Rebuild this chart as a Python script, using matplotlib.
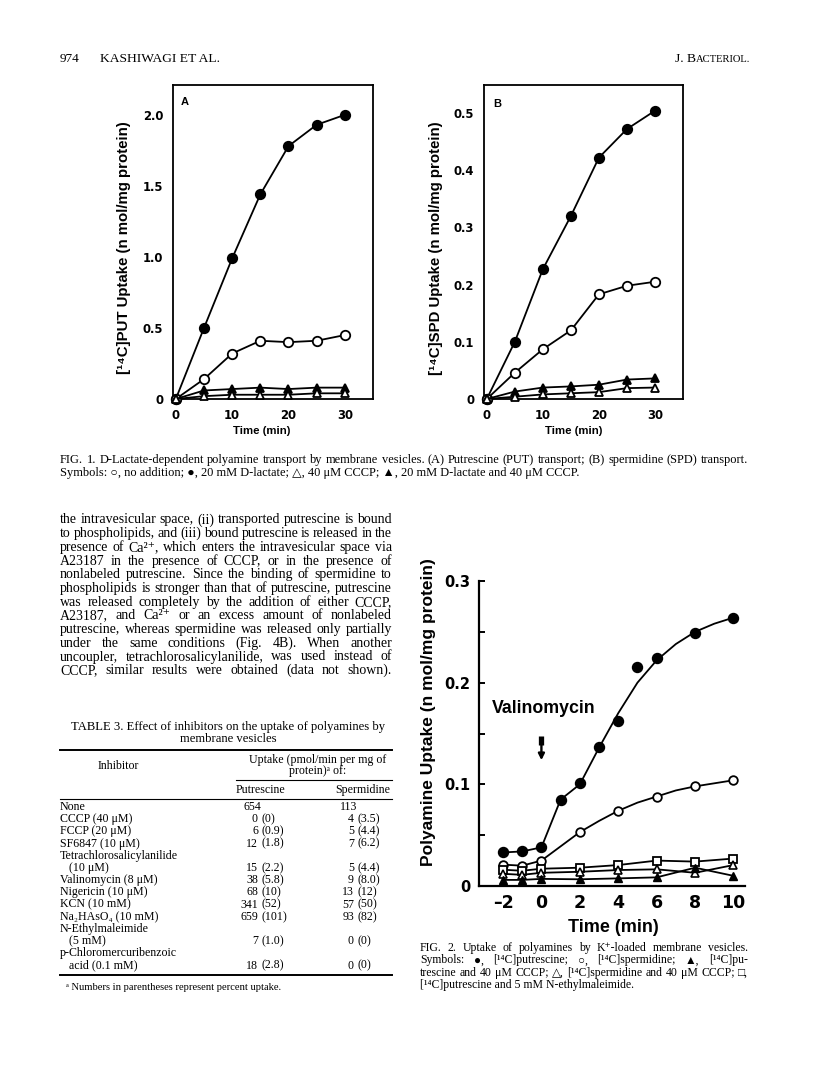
import matplotlib
matplotlib.use("Agg")
import matplotlib.pyplot as plt
from matplotlib.ticker import MultipleLocator

# ---- data ----
fig1_time = [0, 5, 10, 15, 20, 25, 30]
put_lactate = [0, 0.50, 0.99, 1.44, 1.78, 1.93, 2.00]
put_none = [0, 0.14, 0.32, 0.41, 0.40, 0.41, 0.45]
put_lactate_cccp = [0, 0.06, 0.07, 0.08, 0.07, 0.08, 0.08]
put_cccp = [0, 0.02, 0.03, 0.03, 0.03, 0.04, 0.04]

spd_lactate = [0, 0.100, 0.227, 0.320, 0.422, 0.472, 0.504]
spd_none = [0, 0.046, 0.087, 0.120, 0.183, 0.198, 0.205]
spd_lactate_cccp = [0, 0.013, 0.020, 0.022, 0.025, 0.034, 0.036]
spd_cccp = [0, 0.004, 0.008, 0.010, 0.012, 0.019, 0.020]

fig2_time = [-2, -1, 0, 1, 2, 3, 4, 5, 6, 8, 10]
f2_put = [0.033, 0.034, 0.038, 0.085, 0.101, 0.137, 0.162, 0.215, 0.224, 0.249, 0.264]
f2_time_b = [-2, -1, 0, 2, 4, 6, 8, 10]
f2_spd = [0.021, 0.020, 0.025, 0.053, 0.074, 0.088, 0.098, 0.104]
f2_put_cccp = [0.006, 0.006, 0.007, 0.0066, 0.0075, 0.0085, 0.018, 0.010]
f2_spd_cccp = [0.012, 0.011, 0.013, 0.014, 0.0157, 0.0164, 0.013, 0.0206]
f2_put_nem = [0.016, 0.015, 0.017, 0.018, 0.0206, 0.025, 0.024, 0.027]
# hand-drawn curves through the two upper series
curve_x = [-2, -1, 0, 1, 2, 3, 4, 5, 6, 7, 8, 9, 10]
curve_put = [0.033, 0.034, 0.038, 0.085, 0.100, 0.136, 0.170, 0.200, 0.222, 0.238, 0.250, 0.258, 0.264]
curve_spd = [0.021, 0.020, 0.025, 0.039, 0.053, 0.064, 0.074, 0.082, 0.088, 0.094, 0.098, 0.101, 0.104]
valinomycin_time = 0

inhibitors = ["None", "CCCP (40 \u03bcM)", "FCCP (20 \u03bcM)", "SF6847 (10 \u03bcM)",
              "Tetrachlorosalicylanilide", "   (10 \u03bcM)", "Valinomycin (8 \u03bcM)",
              "Nigericin (10 \u03bcM)", "KCN (10 mM)", "Na\u2082HAsO\u2084 (10 mM)",
              "N-Ethylmaleimide", "   (5 mM)", "p-Chloromercuribenzoic", "   acid (0.1 mM)"]
put_uptake = ["654", "0 (0)", "6 (0.9)", "12 (1.8)", "", "15 (2.2)", "38 (5.8)",
              "68 (10)", "341 (52)", "659 (101)", "", "7 (1.0)", "", "18 (2.8)"]
spd_uptake = ["113", "4 (3.5)", "5 (4.4)", "7 (6.2)", "", "5 (4.4)", "9 (8.0)",
              "13 (12)", "57 (50)", "93 (82)", "", "0 (0)", "", "0 (0)"]

paragraph = [
    "the intravesicular space, (ii) transported putrescine is bound",
    "to phospholipids, and (iii) bound putrescine is released in the",
    "presence of Ca\u00b2\u207a, which enters the intravesicular space via",
    "A23187 in the presence of CCCP, or in the presence of",
    "nonlabeled putrescine. Since the binding of spermidine to",
    "phospholipids is stronger than that of putrescine, putrescine",
    "was released completely by the addition of either CCCP,",
    "A23187, and Ca\u00b2\u207a or an excess amount of nonlabeled",
    "putrescine, whereas spermidine was released only partially",
    "under the same conditions (Fig. 4B). When another",
    "uncoupler, tetrachlorosalicylanilide, was used instead of",
    "CCCP, similar results were obtained (data not shown).",
]
fig1_caption = [
    "FIG. 1. D-Lactate-dependent polyamine transport by membrane vesicles. (A) Putrescine (PUT) transport; (B) spermidine (SPD) transport.",
    "Symbols: \u25cb, no addition; \u25cf, 20 mM D-lactate; \u25b3, 40 \u03bcM CCCP; \u25b2, 20 mM D-lactate and 40 \u03bcM CCCP.",
]
fig2_caption = [
    "FIG. 2. Uptake of polyamines by K\u207a-loaded membrane vesicles.",
    "Symbols: \u25cf, [\u00b9\u2074C]putrescine; \u25cb, [\u00b9\u2074C]spermidine; \u25b2, [\u00b9\u2074C]pu-",
    "trescine and 40 \u03bcM CCCP; \u25b3, [\u00b9\u2074C]spermidine and 40 \u03bcM CCCP; \u25a1,",
    "[\u00b9\u2074C]putrescine and 5 mM N-ethylmaleimide.",
]

W, H = 816, 1080
SERIF = ["Liberation Serif", "DejaVu Serif"]
SANS = ["Liberation Sans", "DejaVu Sans"]
WIDE = ["DejaVu Sans"]
plt.rcParams["font.family"] = SANS
plt.rcParams["font.weight"] = "bold"

fig = plt.figure(figsize=(8.16, 10.8), dpi=100)
renderer = fig.canvas.get_renderer()


def rect(l, t, r, b):
    return [l / W, 1 - b / H, (r - l) / W, (b - t) / H]


def txt(x, y, s, size=10, ha="left", family=SERIF, weight="normal", **kw):
    return fig.text(x / W, 1 - y / H, s, fontsize=size, ha=ha, va="center",
                    family=family, fontweight=weight, **kw)


def line(s, x0, y, size, x1=None):
    # justified line of body text
    if x1 is None:
        return txt(x0, y, s, size)
    words = s.split(" ")
    ts = [txt(0, y, w, size) for w in words]
    widths = [t.get_window_extent(renderer).width for t in ts]
    gap = (x1 - x0 - sum(widths)) / max(len(words) - 1, 1)
    x = x0
    for t, w in zip(ts, widths):
        t.set_x(x / W)
        x += w + gap


def hrule(x0, x1, y, lw):
    fig.add_artist(plt.Line2D([x0 / W, x1 / W], [1 - y / H] * 2, color="black", lw=lw))


# ---- header ----
txt(60, 59, "974", 9.5)
txt(100, 59, "KASHIWAGI ET AL.", 9.7)
sc = txt(750, 60, "ACTERIOL.", 7.6, ha="right")
w_sc = sc.get_window_extent(renderer).width
txt(750 - w_sc, 59, "J. B", 9.7, ha="right")

# ---- Fig. 1 ----
def fig1_panel(box, series, ytop, ystep, letter, letter_y, ylabel, xl_x, yl_x):
    ax = fig.add_axes(rect(*box))
    styles = [("o", "black"), ("o", "white"), ("^", "black"), ("^", "white")]
    for ys, (m, fc) in zip(series, styles):
        ax.plot(fig1_time, ys, color="black", lw=1.3, marker=m, ms=6.8 if m == "o" else 6.2,
                mfc=fc, mec="black", mew=1.3, clip_on=False, zorder=3)
    ax.set_xlim(-0.5, 35)
    ax.set_ylim(0, ytop)
    ax.set_xticks([0, 10, 20, 30])
    yt = [i * ystep for i in range(6) if i * ystep <= ytop]
    ax.set_yticks(yt)
    ax.set_yticklabels(["0"] + [f"{v:.1f}" for v in yt[1:]])
    ax.tick_params(length=0, labelsize=8.4, pad=7)
    for lab in ax.get_xticklabels() + ax.get_yticklabels():
        lab.set_family(WIDE)
    for s in ax.spines.values():
        s.set_linewidth(1.3)
    ax.text(0.9 if letter == "A" else 1.2, letter_y, letter, fontsize=8, fontweight="bold")
    txt(xl_x, 431, "Time (min)", 8.2, ha="center", family=SANS, weight="bold")
    txt(yl_x, 248, ylabel, 10.8, ha="center", family=SANS, weight="bold", rotation=90)
    return ax


fig1_panel((173, 85, 373, 399), [put_lactate, put_none, put_lactate_cccp, put_cccp],
           2.21, 0.5, "A", 2.07, "[\u00b9\u2074C]PUT Uptake (n mol/mg protein)", 262, 124)
fig1_panel((484, 85, 683, 399), [spd_lactate, spd_none, spd_lactate_cccp, spd_cccp],
           0.549, 0.1, "B", 0.51, "[\u00b9\u2074C]SPD Uptake (n mol/mg protein)", 574, 436)

line(fig1_caption[0], 60, 460, 8.9, 748)
line(fig1_caption[1], 60, 473, 8.9)

# ---- body text ----
for i, s in enumerate(paragraph):
    line(s, 60, 520 + 13.7 * i, 10.0, 392)

# ---- Table 3 ----
txt(228, 727, "TABLE 3. Effect of inhibitors on the uptake of polyamines by", 9.1, ha="center")
txt(228, 739, "membrane vesicles", 9.1, ha="center")
hrule(60, 392, 750, 1.4)
txt(118, 766, "Inhibitor", 8.6, ha="center")
txt(318, 760, "Uptake (pmol/min per mg of", 8.6, ha="center")
txt(318, 771, "protein)\u1d43 of:", 8.6, ha="center")
hrule(236, 392, 780, 0.8)
txt(260, 790, "Putrescine", 8.6, ha="center")
txt(363, 790, "Spermidine", 8.6, ha="center")
hrule(60, 392, 799, 0.8)
for i, (name, pv, sv) in enumerate(zip(inhibitors, put_uptake, spd_uptake)):
    y = 807 + 12.2 * i
    txt(60, y, name, 8.6)
    for val, xr, x_plain in ((pv, 258, 244), (sv, 354, 340)):
        if not val:
            continue
        if "(" in val:
            num, par = val.split(" ", 1)
            txt(xr, y, num, 8.6, ha="right")
            txt(xr + 3, y, par, 8.6)
        else:
            txt(x_plain, y, val, 8.6)
hrule(60, 392, 975, 1.4)
txt(66, 987, "\u1d43 Numbers in parentheses represent percent uptake.", 7.6)

# ---- Fig. 2 ----
ax2 = fig.add_axes(rect(479, 581, 745, 886))
ax2.plot(curve_x, curve_put, color="black", lw=1.3, zorder=2)
ax2.plot(curve_x, curve_spd, color="black", lw=1.3, zorder=2)
ax2.plot(fig2_time, f2_put, ls="none", marker="o", ms=7.2, mfc="black", mec="black", clip_on=False, zorder=3)
ax2.plot(f2_time_b, f2_spd, ls="none", marker="o", ms=6.2, mfc="white", mec="black", mew=1.3, clip_on=False, zorder=3)
ax2.plot(f2_time_b, f2_put_nem, color="black", lw=1.3, marker="s", ms=5.2, mfc="white", mec="black", mew=1.3, clip_on=False, zorder=3)
ax2.plot(f2_time_b, f2_spd_cccp, color="black", lw=1.3, marker="^", ms=5.8, mfc="white", mec="black", mew=1.2, clip_on=False, zorder=3)
ax2.plot(f2_time_b, f2_put_cccp, color="black", lw=1.3, marker="^", ms=5.8, mfc="black", mec="black", clip_on=False, zorder=3)
ax2.set_xlim(-3.25, 10.6)
ax2.set_ylim(0, 0.3)
for s in ("top", "right"):
    ax2.spines[s].set_visible(False)
ax2.spines["left"].set_linewidth(1.6)
ax2.spines["bottom"].set_linewidth(1.6)
ax2.set_xticks([-2, 0, 2, 4, 6, 8, 10])
ax2.set_xticklabels(["\u20132", "0", "2", "4", "6", "8", "10"])
ax2.set_yticks([0, 0.1, 0.2, 0.3])
ax2.set_yticklabels(["0", "0.1", "0.2", "0.3"])
ax2.yaxis.set_minor_locator(MultipleLocator(0.05))
ax2.tick_params(axis="x", length=0, labelsize=12.5, pad=6)
ax2.tick_params(axis="y", which="both", direction="in", length=4, width=1.4, labelsize=10.5, pad=6)
for lab in ax2.get_xticklabels() + ax2.get_yticklabels():
    lab.set_family(WIDE)
ax2.text(-2.57, 0.175, "Valinomycin", fontsize=12.8, fontweight="bold", va="center")
ax2.annotate("", xy=(valinomycin_time, 0.121), xytext=(valinomycin_time, 0.148),
             arrowprops=dict(arrowstyle="-|>", lw=1.7, color="black", mutation_scale=9))
ax2.plot([valinomycin_time] * 2, [0.139, 0.148], color="black", lw=3.8, solid_capstyle="butt")
txt(613, 927, "Time (min)", 13, ha="center", family=SANS, weight="bold")
txt(428, 712, "Polyamine Uptake (n mol/mg protein)", 12.5, ha="center", family=SANS,
    weight="bold", rotation=90)

for i, s in enumerate(fig2_caption):
    line(s, 420, 948 + 12.3 * i, 8.5, 748 if i < 3 else None)

fig.savefig("out.png", dpi=100, facecolor="white")
